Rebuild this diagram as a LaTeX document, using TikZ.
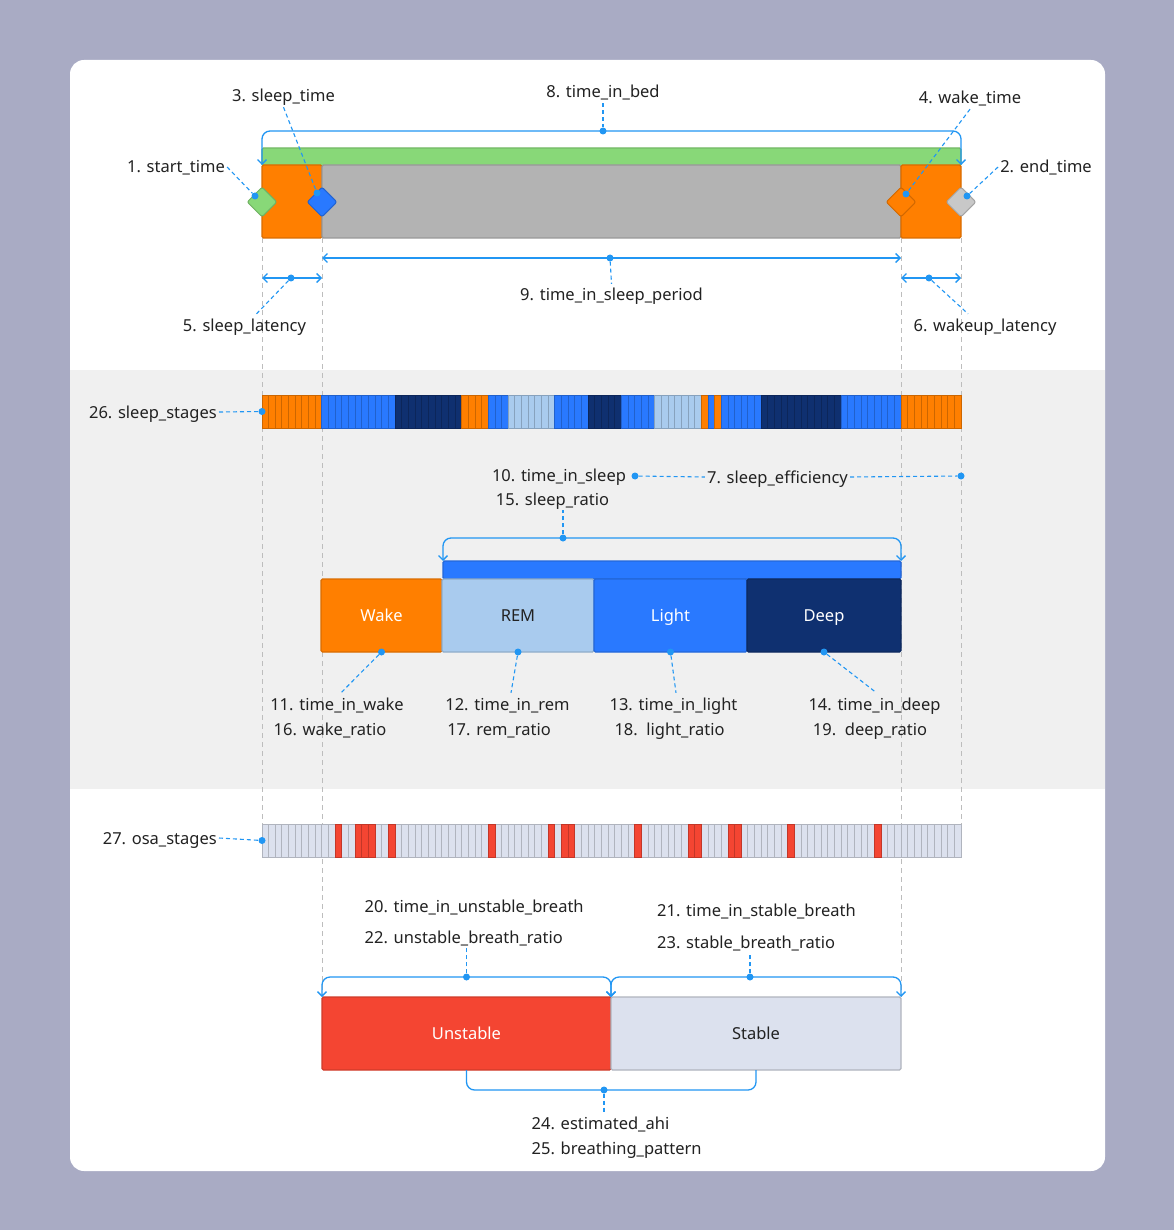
\documentclass[tikz,border=0pt]{standalone}
\usepackage{fontspec}
\setmainfont{Noto Sans}
\usepackage{tikz}
\usetikzlibrary{arrows.meta,shapes.geometric,backgrounds}

\definecolor{bgc}{HTML}{A9ABC4}
\definecolor{band}{HTML}{F0F0F0}
\definecolor{ink}{HTML}{222222}
\definecolor{acc}{HTML}{2196F3}
\definecolor{gline}{HTML}{BDBDBD}
\definecolor{bed}{HTML}{88D878}
\definecolor{wake}{HTML}{FF7F00}
\definecolor{period}{HTML}{B3B3B3}
\definecolor{rem}{HTML}{A9CBEE}
\definecolor{light}{HTML}{2979FF}
\definecolor{deep}{HTML}{0F3070}
\definecolor{unstable}{HTML}{F44532}
\definecolor{stable}{HTML}{DCE1EE}
\definecolor{endc}{HTML}{C8C8C8}

\begin{document}
\begin{tikzpicture}[x=1pt,y=-1pt,
  font=\fontsize{16.5}{20}\selectfont, text=ink,
  lbl/.style={inner sep=2pt, text height=15pt, text depth=3pt},
  box/.style={draw=#1!85!black, fill=#1, line width=1.2pt, rounded corners=1.5pt,
    inner sep=0, outer sep=0, anchor=north west, text height=15pt, text depth=3pt},
  cell/.style={draw=#1!80!black, fill=#1, line width=1pt},
  gem/.style={diamond, draw=#1!82!black, fill=#1, line width=1pt,
    minimum size=30, inner sep=0, rounded corners=2pt},
  blip/.style={circle, fill=acc, inner sep=0, minimum size=7},
  lead/.style={draw=acc, line width=1.1pt, dash pattern=on 4pt off 3pt},
  guide/.style={draw=gline, line width=1pt, dash pattern=on 5pt off 4pt},
  bkt/.style={draw=acc, line width=1.3pt, rounded corners=8pt},
  arr/.style={{Straight Barb[length=4.5pt,width=9pt]}-{Straight Barb[length=4.5pt,width=9pt]}}]
%%Card
\begin{scope}[on background layer]
\fill[bgc] (0,0) rectangle (1174,1230);
\fill[white, rounded corners=14pt] (70,60) rectangle (1105,1171);
\fill[band] (70,370) rectangle (1105,789);
\end{scope}

%%Time in bed
\node[box=bed, minimum width=699, minimum height=17] (inbed) at (262,148) {};
\node[box=wake, minimum width=60, minimum height=73] (wakeA) at (262,165) {};
\node[box=period, minimum width=579, minimum height=73] (tsp) at (322,165) {};
\node[box=wake, minimum width=60, minimum height=73] (wakeB) at (901,165) {};
\node[gem=bed] (sttgem) at (262,202) {};
\node[gem=light] (sltgem) at (322,202) {};
\node[gem=wake] (wktgem) at (901,202) {};
\node[gem=endc] (etgem) at (961,202) {};

\node[blip] (beddot) at (603,131) {};
\node[blip] (sttdot) at (255,196) {};
\node[blip] (sltdot) at (317,193) {};
\node[blip] (wktdot) at (906,194) {};
\node[blip] (etdot) at (967,196) {};
\coordinate (tspmid) at (610,258);
\coordinate (slmid) at (291,278);
\coordinate (wlmid) at (929,278);

\draw[bkt,arr] (wakeA.north west) |- (beddot.center) -| (wakeB.north east);
\draw[bkt,arr] (tspmid -| tsp.west) -- (tspmid -| tsp.east);
\draw[bkt,arr] (slmid -| wakeA.west) -- (slmid -| wakeA.east);
\draw[bkt,arr] (wlmid -| wakeB.west) -- (wlmid -| wakeB.east);
\node[blip] (tspdot) at (tspmid) {};
\node[blip] (sldot) at (slmid) {};
\node[blip] (wldot) at (wlmid) {};

%%Label
\node[lbl] (sttlbl) at (176,167) {1. start\_time};
\node[lbl] (etlbl) at (1046,167) {2. end\_time};
\node[lbl] (sltlbl) at (283.5,96) {3. sleep\_time};
\node[lbl] (wktlbl) at (970,98) {4. wake\_time};
\node[lbl] (sllbl) at (244.5,325) {5. sleep\_latency};
\node[lbl] (wllbl) at (985,325) {6. wakeup\_latency};
\node[lbl] (bedlbl) at (603,92) {8. time\_in\_bed};
\node[lbl] (tsplbl) at (611.5,295) {9. time\_in\_sleep\_period};

\draw[lead] (sttlbl.east) -- (sttdot);
\draw[lead] (etlbl.west) -- (etdot);
\draw[lead] (sltlbl.south) -- (sltdot);
\draw[lead] (wktlbl.south) -- (wktdot);
\draw[lead] (bedlbl.south) -- (beddot);
\draw[lead] (tspdot) -- (tsplbl.north);
\draw[lead] (sldot) -- ([xshift=12pt]sllbl.north);
\draw[lead] (wldot) -- ([xshift=-17pt]wllbl.north);

%%Sleep stages
\node[inner sep=0, outer sep=0, minimum width=699, minimum height=33, anchor=north west] (stg) at (262,395) {};
\foreach \c/\n [remember=\ed as \st (initially 0), evaluate=\n as \ed using int(\st+\n)] in
  {wake/9, light/11, deep/10, wake/4, light/3, rem/7, light/5, deep/5, light/5,
   rem/7, wake/1, light/1, wake/1, light/6, deep/12, light/9, wake/9}{
  \foreach \k in {1,...,\n}
    \draw[cell=\c] ({262+(\st+\k-1)*6.657},395) rectangle ++(6.657,33);
}
\node[blip] (stgdot) at (stg.west) {};
\node[lbl, anchor=east] (stglbl) at (219,412) {26. sleep\_stages};
\draw[lead] (stglbl.east) -- (stgdot);

%%Stage totals
\node[lbl] (tislbl) at (559,475) {10. time\_in\_sleep};
\node[lbl] (srlbl) at (552.5,499) {15. sleep\_ratio};
\node[lbl] (selbl) at (777.5,477) {7. sleep\_efficiency};
\node[blip] (tisdot) at (635,476) {};
\node[blip] (sedot) at (961,476) {};
\draw[lead] (tisdot) -- (selbl.west);
\draw[lead] (selbl.east) -- (sedot);

\node[box=light, minimum width=458, minimum height=18] (sbar) at (443,561) {};
\node[blip] (srdot) at (563,538) {};
\draw[lead] (srdot) -- (srdot |- srlbl.south);
\draw[bkt,arr] (sbar.north west) |- (srdot.center) -| (sbar.north east);

\node[box=wake, minimum width=121, minimum height=73, text=white] (wk) at (321,579) {Wake};
\node[box=rem, minimum width=152, minimum height=73] (rm) at (442,579) {REM};
\node[box=light, minimum width=153, minimum height=73, text=white] (lt) at (594,579) {Light};
\node[box=deep, minimum width=154, minimum height=73, text=white] (dp) at (747,579) {Deep};
\node[blip] (wkdot) at (wk.south) {};
\node[blip] (rmdot) at (rm.south) {};
\node[blip] (ltdot) at (lt.south) {};
\node[blip] (dpdot) at (dp.south) {};

\node[lbl] (tiwlbl) at (337,704) {11. time\_in\_wake};
\node[lbl] (wrlbl) at (330,729) {16. wake\_ratio};
\node[lbl] (tirlbl) at (507.5,704) {12. time\_in\_rem};
\node[lbl] (rrlbl) at (499,729) {17. rem\_ratio};
\node[lbl] (tillbl) at (673.5,704) {13. time\_in\_light};
\node[lbl] (lrlbl) at (669.5,729) {18.~~light\_ratio};
\node[lbl] (tidlbl) at (874.5,704) {14. time\_in\_deep};
\node[lbl] (drlbl) at (870,729) {19.~~deep\_ratio};
\draw[lead] (wkdot) -- ([xshift=4pt]tiwlbl.north);
\draw[lead] (rmdot) -- ([xshift=3.5pt]tirlbl.north);
\draw[lead] (ltdot) -- ([xshift=2.5pt]tillbl.north);
\draw[lead] (dpdot) -- ([xshift=2pt]tidlbl.north);

%%OSA stages
\node[inner sep=0, outer sep=0, minimum width=699, minimum height=33, anchor=north west] (osa) at (262,824) {};
\foreach \k in {0,...,104}
  \draw[cell=stable] ({262+\k*6.657},824) rectangle ++(6.657,33);
\foreach \k in {11,14,15,16,19,34,43,45,46,56,64,65,70,71,79,92}
  \draw[cell=unstable] ({262+\k*6.657},824) rectangle ++(6.657,33);
\node[blip] (osadot) at (osa.west) {};
\node[lbl, anchor=east] (osalbl) at (219,838) {27. osa\_stages};
\draw[lead] (osalbl.east) -- (osadot);

%%Breathing
\node[lbl, anchor=west] (tiulbl) at (362.5,906) {20. time\_in\_unstable\_breath};
\node[lbl, anchor=west] (ubrlbl) at (362.5,937) {22. unstable\_breath\_ratio};
\node[lbl, anchor=west] (tsblbl) at (655,910) {21. time\_in\_stable\_breath};
\node[lbl, anchor=west] (sbrlbl) at (655,942) {23. stable\_breath\_ratio};

\node[box=unstable, minimum width=289, minimum height=73, text=white] (unst) at (322,997) {Unstable};
\node[box=stable, draw=stable!80!black, minimum width=290, minimum height=73] (stab) at (611,997) {Stable};
\node[blip] (usdot) at (466.5,977) {};
\node[blip] (sdot) at (750,977) {};
\draw[lead] (usdot) -- (usdot |- ubrlbl.south);
\draw[lead] (sdot) -- (sdot |- sbrlbl.south);
\draw[bkt,arr] (unst.north west) |- (usdot.center) -| (unst.north east);
\draw[bkt,arr] (stab.north west) |- (sdot.center) -| (stab.north east);

\node[blip] (ahidot) at (604,1090) {};
\draw[bkt] (unst.south) |- (ahidot.center) -| (stab.south);
\node[lbl, anchor=west] (ahilbl) at (529.5,1123) {24. estimated\_ahi};
\node[lbl, anchor=west] (bplbl) at (529.5,1148) {25. breathing\_pattern};
\draw[lead] (ahidot) -- (ahidot |- ahilbl.north);

%%Guides
\begin{scope}[on background layer]
\draw[guide] (wakeA.south west) -- (osa.north west);
\draw[guide] (wakeA.south east) -- (unst.north west);
\draw[guide] (wakeB.south west) -- (stab.north east);
\draw[guide] (wakeB.south east) -- (osa.north east);
\end{scope}
\end{tikzpicture}
\end{document}
